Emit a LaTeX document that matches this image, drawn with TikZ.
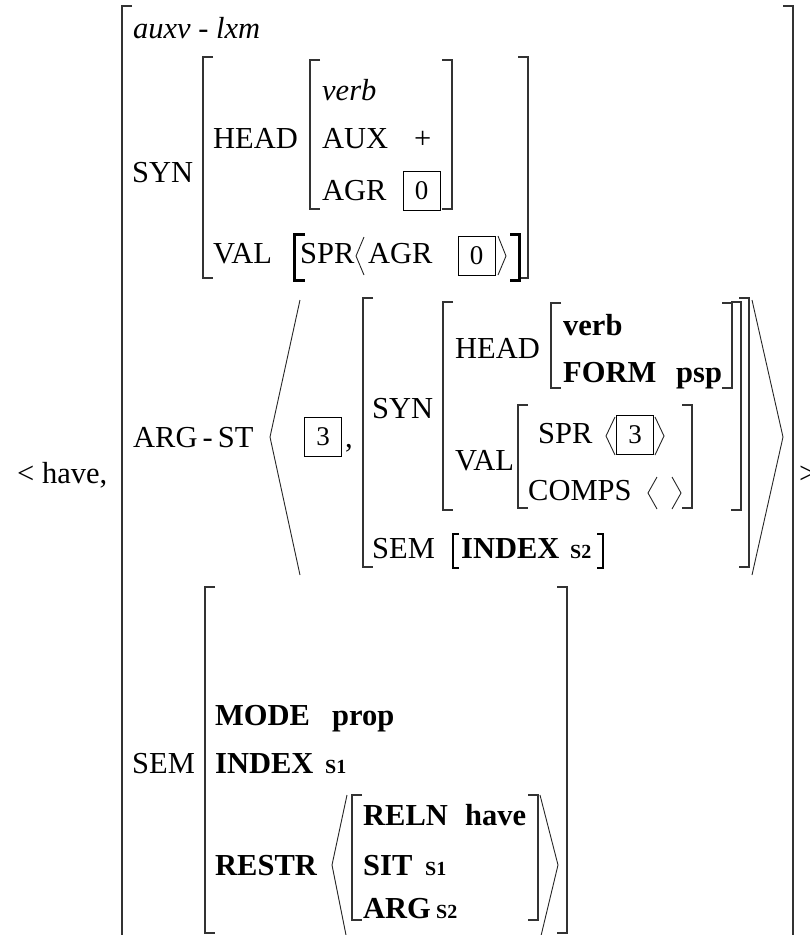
\documentclass[tikz,border=0pt]{standalone}
\usepackage{fontspec}
\setmainfont{Liberation Serif}
\newcommand{\avmsize}{\fontsize{30.5}{36}\selectfont}
\newcommand{\sidx}[1]{{\fontsize{20}{24}\selectfont\bfseries #1}}
\tikzset{
  lbl/.style={anchor=base west, inner sep=0pt, font=\avmsize},
  lbl bold/.style={lbl, font=\avmsize\bfseries},
  lbl it/.style={lbl, font=\avmsize\itshape},
  tag/.style={draw, line width=0.8pt, inner sep=0pt, minimum width=37pt,
    minimum height=39pt, font=\fontsize{27}{30}\selectfont},
  brk/.style={line width=1.3pt, black!80},
  ang/.style={line width=0.9pt, black!85}
}
\begin{document}
\begin{tikzpicture}[x=1pt, y=-1pt]
\useasboundingbox (0,0) rectangle (810,935);

% outer matrix
\draw[brk] (132,6) -- (122,6) -- (122,940);
\draw[brk] (783,6) -- (793,6) -- (793,940);
\node[lbl] (have) at (17,483) {< have,};
\node[lbl] (close) at (799,483) {>};
\node[lbl it] (type) at (133,38) {auxv - lxm};

% brackets: left ones, then right ones
\foreach \x/\a/\b in {203/57/278, 310/60/209, 363/298/567, 443/302/510,
  551/303/388, 518/405/508, 205/587/933, 352/795/920}
  \draw[brk] ({\x+10},\a) -- (\x,\a) -- (\x,\b) -- ({\x+10},\b);
\foreach \x/\a/\b in {528/57/278, 452/60/209, 749/298/567, 741/302/510,
  732/303/388, 692/405/508, 567/587/933, 538/795/920}
  \draw[brk] ({\x-10},\a) -- (\x,\a) -- (\x,\b) -- ({\x-10},\b);

% syn
\node[lbl] (syn-1) at (132,182) {SYN};
\node[lbl] (head-1) at (213,148) {HEAD};
\node[lbl it] (verb-1) at (322,100) {verb};
\node[lbl] (aux) at (322,148) {AUX};
\node[lbl] (plus) at (414,148) {+};
\node[lbl] (agr-1) at (322,200) {AGR};
\node[lbl] (val-1) at (213,263) {VAL};
\draw[line width=3pt] (305,234.5) -- (294.5,234.5) -- (294.5,280.5) -- (305,280.5);
\node[lbl] (spr-1) at (300,263) {SPR};
\node[lbl] (agr-2) at (368,263) {AGR};
\draw[line width=3pt] (510,234.5) -- (519.5,234.5) -- (519.5,280.5) -- (510,280.5);

% tags
\foreach \n/\t/\x/\y in {0a/0/421.5/191, 0b/0/476.5/255.5, 3a/3/323/437, 3b/3/635/434.5}
  \node[tag] (tag-\n) at (\x,\y) {\t};
\draw[ang] (364,237) -- (356,256) -- (364,275);
\draw[ang] (498,236) -- (506,256) -- (498,275);

% arg-st
\node[lbl] (argst) at (133,447) {ARG\,-\,ST};
\draw[ang] (300,300) -- (270,437) -- (300,575);
\draw[ang] (752,300) -- (783,437) -- (752,575);
\node[lbl] (comma) at (345,447) {,};
\node[lbl] (syn-2) at (372,418) {SYN};
\node[lbl] (head-2) at (455,358) {HEAD};
\node[lbl bold] (verb-2) at (563,335) {verb};
\node[lbl bold] (form) at (563,382) {FORM};
\node[lbl bold] (psp) at (676,382) {psp};
\node[lbl] (val-2) at (455,470) {VAL};
\node[lbl] (spr-2) at (538,443) {SPR};
\draw[ang] (615,417) -- (606,436) -- (615,455);
\draw[ang] (655,417) -- (664,436) -- (655,455);
\node[lbl] (comps) at (528,500) {COMPS};
\draw[ang] (657,477) -- (648,493) -- (657,509);
\draw[ang] (672,477) -- (681,493) -- (672,509);
\node[lbl] (sem-2) at (372,558) {SEM};
\draw[line width=2pt] (459,534) -- (453,534) -- (453,568) -- (459,568);
\node[lbl bold] (index-2) at (461,558) {INDEX};
\node[lbl] (s-2) at (570,558) {\sidx{S2}};
\draw[line width=2pt] (597,534) -- (603,534) -- (603,568) -- (597,568);

% sem
\node[lbl] (sem-1) at (132,773) {SEM};
\node[lbl bold] (mode) at (215,725) {MODE};
\node[lbl bold] (prop) at (332,725) {prop};
\node[lbl bold] (index-1) at (215,773) {INDEX};
\node[lbl] (s-1) at (325,773) {\sidx{S1}};
\node[lbl bold] (restr) at (215,875) {RESTR};
\draw[ang] (347,795) -- (332,865) -- (347,940);
\draw[ang] (540,795) -- (558,865) -- (540,940);
\node[lbl bold] (reln) at (363,825) {RELN};
\node[lbl bold] (have-2) at (465,825) {have};
\node[lbl bold] (sit) at (363,875) {SIT};
\node[lbl] (s-3) at (425,875) {\sidx{S1}};
\node[lbl bold] (arg) at (363,918) {ARG};
\node[lbl] (s-4) at (436,918) {\sidx{S2}};
\end{tikzpicture}
\end{document}
